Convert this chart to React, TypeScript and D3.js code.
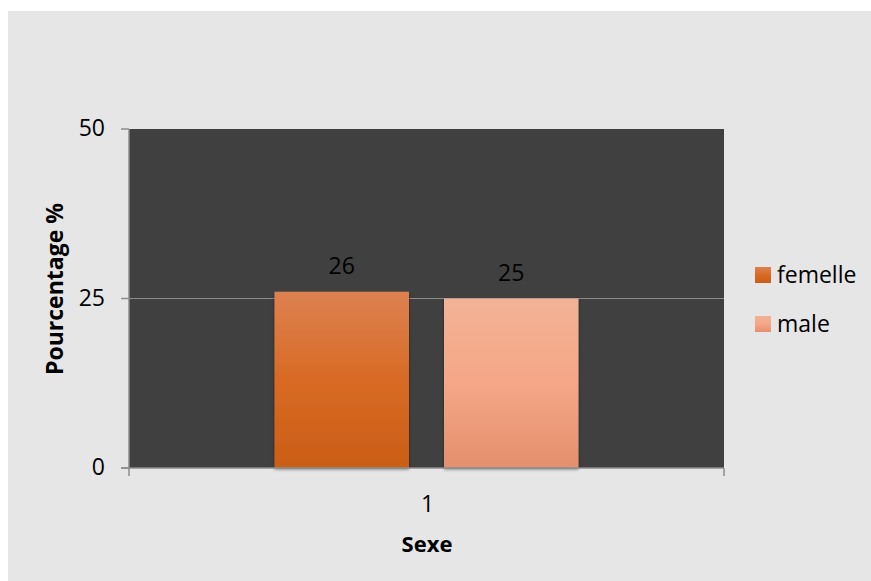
import React from "react";
import * as d3 from "d3";

const categories = ["1"];
const seriesNames = ["femelle", "male"];
const femelleValues = [26];
const maleValues = [25];
const yTicks = [0, 25, 50];

const W = 871;
const H = 581;
const plot = { left: 129, right: 724, top: 129, bottom: 468 };
const FONT = "'Open Sans', 'Noto Sans', sans-serif";

const gradients: Record<string, [string, string, string]> = {
  femelle: ["#dd8152", "#d86a24", "#cb5e16"],
  male: ["#f3b296", "#f5a787", "#e48f6d"],
};

export default function App() {
  const x0 = d3
    .scaleBand<string>()
    .domain(categories)
    .range([plot.left, plot.right])
    .paddingInner(0)
    .paddingOuter(0.4786);
  const x1 = d3
    .scaleBand<string>()
    .domain(seriesNames)
    .range([0, x0.bandwidth()])
    .paddingInner(0.2065)
    .paddingOuter(0);
  const y = d3.scaleLinear().domain([0, 50]).range([plot.bottom, plot.top]);

  const valuesBySeries: Record<string, number[]> = {
    femelle: femelleValues,
    male: maleValues,
  };

  return (
    <svg width={W} height={H} style={{ display: "block", position: "absolute", left: 0, top: 0 }}>
      <defs>
        {seriesNames.map((s) => (
          <linearGradient key={s} id={`grad-${s}`} x1="0" y1="0" x2="0" y2="1">
            <stop offset="0%" stopColor={gradients[s][0]} />
            <stop offset="50%" stopColor={gradients[s][1]} />
            <stop offset="100%" stopColor={gradients[s][2]} />
          </linearGradient>
        ))}
        <filter id="barShadow" x="-10%" y="-10%" width="120%" height="120%">
          <feDropShadow dx="0" dy="1.5" stdDeviation="1.5" floodColor="#000" floodOpacity="0.45" />
        </filter>
      </defs>
      <rect x={8} y={11} width={W - 8} height={H - 11} fill="#e6e6e6" />
      <rect
        x={plot.left}
        y={plot.top}
        width={plot.right - plot.left}
        height={plot.bottom - plot.top}
        fill="#404040"
      />
      {/* gridlines */}
      {yTicks
        .filter((t) => t !== 0 && t !== 50)
        .map((t) => (
          <line
            key={t}
            x1={plot.left}
            x2={plot.right}
            y1={y(t)}
            y2={y(t)}
            stroke="#8c8c8c"
            strokeWidth={1}
          />
        ))}
      {/* bars */}
      {categories.map((c, ci) => (
        <g key={c} transform={`translate(${x0(c)},0)`}>
          {seriesNames.map((s) => {
            const v = valuesBySeries[s][ci];
            return (
              <g key={s}>
                <rect
                  x={x1(s)}
                  y={y(v)}
                  width={x1.bandwidth()}
                  height={y(0) - y(v)}
                  fill={`url(#grad-${s})`}
                  filter="url(#barShadow)"
                />
                <text
                  x={(x1(s) ?? 0) + x1.bandwidth() / 2}
                  y={y(v) - 18}
                  textAnchor="middle"
                  fontFamily={FONT}
                  fontSize={23}
                  fill="#000"
                >
                  {v}
                </text>
              </g>
            );
          })}
        </g>
      ))}
      {/* axes */}
      <line x1={plot.left} x2={plot.left} y1={plot.top} y2={plot.bottom + 8} stroke="#8c8c8c" strokeWidth={1.5} />
      <line x1={plot.left - 8} x2={plot.right} y1={plot.bottom} y2={plot.bottom} stroke="#8c8c8c" strokeWidth={1.5} />
      <line x1={plot.right} x2={plot.right} y1={plot.bottom} y2={plot.bottom + 8} stroke="#8c8c8c" strokeWidth={1.5} />
      {yTicks.map((t) => (
        <g key={t}>
          <line x1={plot.left - 8} x2={plot.left} y1={y(t)} y2={y(t)} stroke="#8c8c8c" strokeWidth={1.5} />
          <text
            x={105}
            y={y(t) + 7}
            textAnchor="end"
            fontFamily={FONT}
            fontSize={23}
            fill="#000"
          >
            {t}
          </text>
        </g>
      ))}
      {categories.map((c) => (
        <text
          key={c}
          x={(x0(c) ?? 0) + x0.bandwidth() / 2 + 1}
          y={512}
          textAnchor="middle"
          fontFamily={FONT}
          fontSize={23}
          fill="#000"
        >
          {c}
        </text>
      ))}
      <text x={427} y={552} textAnchor="middle" fontFamily={FONT} fontSize={22} fontWeight="bold" fill="#000">
        Sexe
      </text>
      <text
        transform={`translate(63,289) rotate(-90)`}
        textAnchor="middle"
        fontFamily={FONT}
        fontSize={23}
        fontWeight="bold"
        fill="#000"
      >
        Pourcentage %
      </text>
      {/* legend */}
      {seriesNames.map((s, i) => (
        <g key={s} transform={`translate(755,${267 + i * 49})`}>
          <rect x={0} y={0} width={16} height={16} fill={`url(#grad-${s})`} />
          <text x={22} y={16} fontFamily={FONT} fontSize={23} fill="#000">
            {s}
          </text>
        </g>
      ))}
    </svg>
  );
}
